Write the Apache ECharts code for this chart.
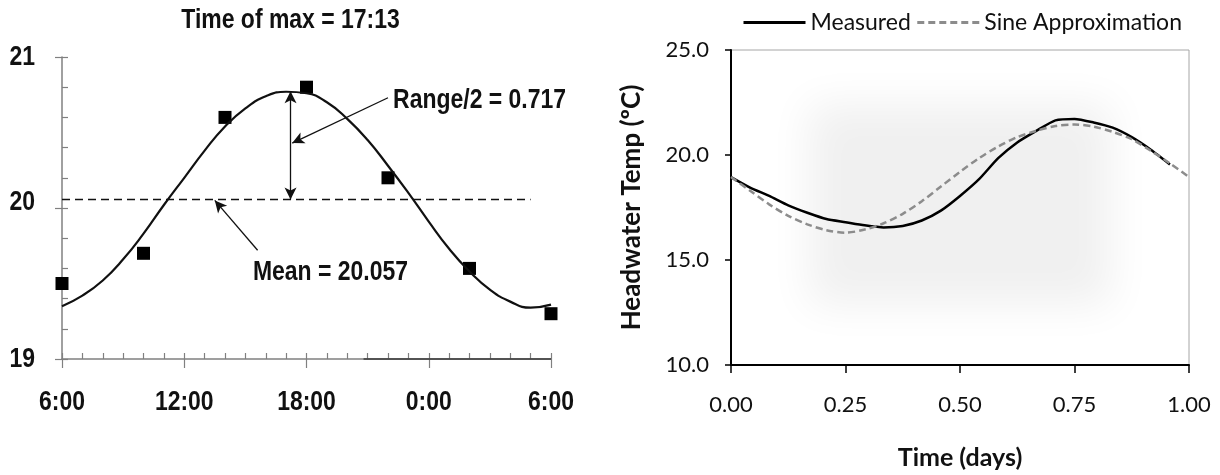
<!DOCTYPE html>
<html>
<head>
<meta charset="utf-8">
<script src="https://cdn.jsdelivr.net/npm/echarts@6/dist/echarts.min.js"></script>
<style>
  html, body { margin: 0; padding: 0; background: #ffffff; }
  #chart { width: 1220px; height: 475px; }
</style>
</head>
<body>
<div id="chart"></div>
<script>
// ---- Left panel: hourly fitted sine through the daily observations ----
const leftTickLabels = ['6:00', '12:00', '18:00', '0:00', '6:00'];
const leftTickHours = [6, 12, 18, 24, 30];
const leftTempTicks = [19, 20, 21];
// hours since midnight of day 1 (6 = 6:00, 30 = 6:00 next day)
const obsHours = [6, 10, 14, 18, 22, 26, 30];
const obsTemps = [19.5, 19.7, 20.6, 20.8, 20.2, 19.6, 19.3];
const fitHours = [6, 7, 8, 9, 10, 11, 12, 13, 14, 15, 16, 17, 18, 19, 20, 21, 22, 23, 24, 25, 26, 27, 28, 29, 30];
const fitTemps = [19.35, 19.42, 19.52, 19.66, 19.83, 20.02, 20.20, 20.38, 20.54, 20.66, 20.74, 20.77, 20.76, 20.70, 20.59, 20.45, 20.28, 20.10, 19.91, 19.73, 19.58, 19.46, 19.38, 19.34, 19.36];
const meanHours = [6, 29];
const meanTemp = 20.057;
const halfRange = 0.717;
const maxHour = 17 + 13 / 60;
const titleText = 'Time of max = 17:13';
const rangeText = 'Range/2 = 0.717';
const meanText = 'Mean = 20.057';

// ---- Right panel: headwater temperature over one day ----
const dayTicks = ['0.00', '0.25', '0.50', '0.75', '1.00'];
const measuredDays = [0, 1/24, 2/24, 3/24, 4/24, 5/24, 6/24, 7/24, 8/24, 9/24, 10/24, 11/24, 12/24, 13/24, 14/24, 15/24, 16/24, 17/24, 18/24, 19/24, 20/24, 21/24, 22/24, 23/24];
const measuredTemps = [18.95, 18.45, 18.05, 17.6, 17.25, 16.95, 16.8, 16.65, 16.55, 16.62, 16.88, 17.35, 18.05, 18.85, 19.85, 20.6, 21.15, 21.65, 21.72, 21.55, 21.3, 20.85, 20.25, 19.55];
const sineDays = [0, 1/24, 2/24, 3/24, 4/24, 5/24, 6/24, 7/24, 8/24, 9/24, 10/24, 11/24, 12/24, 13/24, 14/24, 15/24, 16/24, 17/24, 18/24, 19/24, 20/24, 21/24, 22/24, 23/24, 1];
const sineTemps = [18.95, 18.3, 17.65, 17.1, 16.7, 16.42, 16.3, 16.45, 16.75, 17.2, 17.8, 18.5, 19.2, 19.85, 20.4, 20.85, 21.15, 21.38, 21.45, 21.35, 21.1, 20.75, 20.2, 19.6, 18.95];

// bold sans squeezed horizontally to a narrow cut
const boldSans = "'Liberation Sans', Arial, sans-serif";
const squeeze = 0.82;
const calib = "Lato, 'Open Sans', sans-serif";

const zip = (xs, ys) => xs.map((x, i) => [x, ys[i]]);

const arrow = (from, to, both) => [
  { coord: from, symbol: both ? 'arrow' : 'none' },
  { coord: to, symbol: 'arrow' }
];

const chart = echarts.init(document.getElementById('chart'), null, { renderer: 'canvas' });

const grey = '#808080';
const option = {
  animation: false,
  backgroundColor: '#ffffff',
  grid: [
    { left: 62, right: 669, top: 57, bottom: 116, containLabel: false },
    { left: 731, right: 31, top: 50, bottom: 103, containLabel: false,
      show: true, borderColor: '#a6a6a6', borderWidth: 1, backgroundColor: 'transparent' }
  ],
  legend: {
    data: ['Measured', 'Sine Approximation'],
    left: 737, top: 6,
    itemWidth: 62, itemHeight: 14, itemGap: 5,
    itemStyle: { opacity: 0 },
    lineStyle: { width: 3 },
    textStyle: { fontFamily: calib, fontSize: 23, color: '#111' }
  },
  xAxis: [
    { gridIndex: 0, type: 'value', min: 6, max: 30, interval: 6, position: 'bottom',
      axisLine: { show: true, lineStyle: { color: grey, width: 1.5 } },
      axisTick: { show: true, inside: true, length: 6, lineStyle: { color: grey, width: 1.2 } },
      minorTick: { show: true, splitNumber: 6, length: 6, lineStyle: { color: grey, width: 1.2 } },
      splitLine: { show: false }, axisLabel: { show: false } },
    { gridIndex: 0, type: 'value', min: 6, max: 30, interval: 6, position: 'bottom',
      axisLine: { show: false },
      axisTick: { show: true, inside: false, length: 9, lineStyle: { color: grey, width: 1.2 } },
      splitLine: { show: false }, axisLabel: { show: false } },
    { gridIndex: 1, type: 'value', min: 0, max: 1, interval: 0.25,
      name: 'Time (days)', nameLocation: 'middle', nameGap: 80,
      nameTextStyle: { fontFamily: calib, fontWeight: 'bold', fontSize: 25, color: '#111' },
      axisLine: { show: true, lineStyle: { color: '#000', width: 2 } },
      axisTick: { show: true, inside: false, length: 8, lineStyle: { color: '#000', width: 1.5 } },
      splitLine: { show: false },
      axisLabel: { margin: 29, fontFamily: calib, fontSize: 22, color: '#111',
        formatter: v => dayTicks[Math.round(v / 0.25)] } }
  ],
  yAxis: [
    { gridIndex: 0, type: 'value', min: 19, max: 21, interval: 1, position: 'left',
      axisLine: { show: true, lineStyle: { color: grey, width: 1.5 } },
      axisTick: { show: true, inside: true, length: 6, lineStyle: { color: grey, width: 1.2 } },
      minorTick: { show: true, splitNumber: 5, length: 6, lineStyle: { color: grey, width: 1.2 } },
      splitLine: { show: false }, axisLabel: { show: false } },
    { gridIndex: 0, type: 'value', min: 19, max: 21, interval: 1, position: 'left',
      axisLine: { show: false },
      axisTick: { show: true, inside: false, length: 7, lineStyle: { color: grey, width: 1.2 } },
      splitLine: { show: false }, axisLabel: { show: false } },
    { gridIndex: 1, type: 'value', min: 10, max: 25, interval: 5,
      name: 'Headwater Temp (ºC)', nameLocation: 'middle', nameGap: 86,
      nameTextStyle: { fontFamily: calib, fontWeight: 'bold', fontSize: 26, color: '#111' },
      axisLine: { show: true, lineStyle: { color: '#000', width: 2 } },
      axisTick: { show: true, inside: false, length: 6, lineStyle: { color: '#000', width: 1.5 } },
      splitLine: { show: false },
      axisLabel: { margin: 22, fontFamily: calib, fontSize: 22, color: '#111',
        formatter: v => v.toFixed(1) } }
  ],
  series: [
    { name: 'mean', type: 'line', xAxisIndex: 0, yAxisIndex: 0,
      data: meanHours.map(hr => [hr, meanTemp]), symbol: 'none', silent: true,
      lineStyle: { color: '#111', width: 1.5, type: [8, 5] },
      // the later half of the time axis is drawn in a darker stroke
      markLine: {
        silent: true, animation: false, symbol: 'none', label: { show: false },
        lineStyle: { color: '#3a3a3a', width: 1.6, type: 'solid' },
        data: [[{ coord: [20.8, 19] }, { coord: [30, 19] }]]
      } },
    { name: 'fit', type: 'line', xAxisIndex: 0, yAxisIndex: 0,
      data: zip(fitHours, fitTemps), smooth: true, symbol: 'none', silent: true,
      lineStyle: { color: '#111', width: 2.2 },
      markLine: {
        silent: true, animation: false,
        symbolSize: [9, 12],
        label: { show: false },
        lineStyle: { color: '#111', width: 1.3, type: 'solid' },
        data: [
          arrow([maxHour, 21.06], [maxHour, meanTemp + halfRange], false),
          arrow([maxHour, meanTemp + halfRange], [maxHour, meanTemp], true),
          arrow([22.0, 20.73], [17.3, 20.43], false),
          arrow([15.6, 19.72], [13.5, 20.05], false)
        ]
      } },
    { name: 'obs', type: 'scatter', xAxisIndex: 0, yAxisIndex: 0,
      data: zip(obsHours, obsTemps), symbol: 'rect', symbolSize: 13,
      itemStyle: { color: '#000', opacity: 1 }, silent: true },
    { name: 'Measured', type: 'line', xAxisIndex: 2, yAxisIndex: 2,
      data: zip(measuredDays, measuredTemps), symbol: 'none', smooth: 0.2,
      lineStyle: { color: '#000', width: 2.5 }, itemStyle: { color: '#000' } },
    { name: 'Sine Approximation', type: 'line', xAxisIndex: 2, yAxisIndex: 2,
      data: zip(sineDays, sineTemps), symbol: 'none', smooth: 0.3,
      lineStyle: { color: '#8c8c8c', width: 2.5, type: [7, 4] }, itemStyle: { color: '#8c8c8c' } }
  ]
};

chart.setOption(option);

// left-panel texts: placed through the panel's own axes
const leftPx = (x, y) => chart.convertToPixel({ xAxisIndex: 0, yAxisIndex: 0 }, [x, y]);
const narrowText = (pt, text, align, dx, dy) => ({
  type: 'text', silent: true, z: 50,
  x: pt[0] + (dx || 0), y: pt[1] + (dy || 0), scaleX: squeeze,
  style: { text: text, fontFamily: boldSans, fontWeight: 'bold', fontSize: 28,
    fill: '#111', align: align, verticalAlign: 'middle' }
});

const graphics = [];
leftTickHours.forEach((hr, i) => {
  graphics.push(narrowText(leftPx(hr, 19), leftTickLabels[i], 'center', 0, 43));
});
leftTempTicks.forEach(t => {
  graphics.push(narrowText(leftPx(6, t), String(t), 'right', -27, t === 20 ? -6 : 0));
});
graphics.push(narrowText(leftPx(maxHour, 21.245), titleText, 'center'));
graphics.push(narrowText(leftPx(22.25, 20.715), rangeText, 'left'));
graphics.push(narrowText(leftPx(15.37, 19.576), meanText, 'left'));

// soft grey haze behind the right-hand plot: only the blurred shadow is shown
const p0 = chart.convertToPixel({ gridIndex: 1 }, [0, 25]);
const p1 = chart.convertToPixel({ gridIndex: 1 }, [1, 10]);
const w = p1[0] - p0[0], h = p1[1] - p0[1];
const shift = 3000;
graphics.push({
  type: 'rect', z: -10, silent: true,
  shape: { x: p0[0] + w * 0.17 - shift, y: p0[1] + h * 0.17, width: w * 0.66, height: h * 0.64 },
  style: { fill: '#f0f0f0', shadowBlur: 40, shadowColor: '#f0f0f0', shadowOffsetX: shift }
});

chart.setOption({ graphic: graphics });
</script>
</body>
</html>
